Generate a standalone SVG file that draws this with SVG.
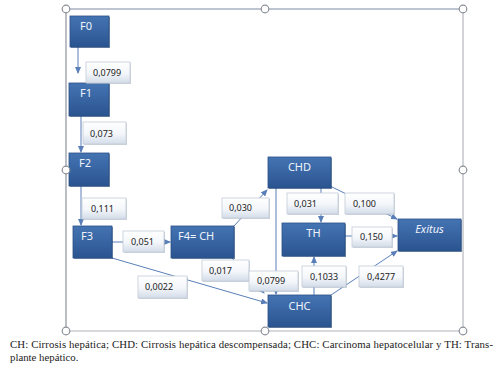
<svg xmlns="http://www.w3.org/2000/svg" width="503" height="378" viewBox="0 0 503 378">
<defs>
<linearGradient id="ng" x1="0" y1="0" x2="0" y2="1">
<stop offset="0" stop-color="#4574b3"/>
<stop offset="1" stop-color="#2a5490"/>
</linearGradient>
<linearGradient id="lg" x1="0" y1="0" x2="0" y2="1">
<stop offset="0" stop-color="#ffffff"/>
<stop offset="0.55" stop-color="#f3f6fa"/>
<stop offset="1" stop-color="#d3dce9"/>
</linearGradient>
<marker id="ar" markerWidth="7" markerHeight="6" refX="6" refY="3" orient="auto" markerUnits="userSpaceOnUse">
<path d="M0,0 L7,3 L0,6 Z" fill="#5a7fb8"/>
</marker>
</defs>
<style>
.node rect.b{fill:url(#ng);stroke:#2c5186;stroke-width:0.8}
.node rect.s{fill:#1e3c68;opacity:0.55}
.node text{font-family:"Noto Sans","Liberation Sans",sans-serif;font-size:11px;fill:#eef3fb}
.lbl rect.b{fill:url(#lg);stroke:#c3ccd8;stroke-width:0.8}
.lbl rect.s{fill:#9aa6b6;opacity:0.5}
.lbl text{font-family:"Noto Sans","Liberation Sans",sans-serif;font-size:9px;fill:#222}
.conn path{fill:none;stroke:#5a7fb8;stroke-width:1;marker-end:url(#ar)}
.frame line{stroke-width:1.2}
.handle{fill:#fff;stroke:#8a8f98;stroke-width:1.2}
.cap{font-family:"Liberation Serif","Times New Roman",serif;font-size:10.8px;fill:#222}
</style>
<g id="frame" class="frame">
<line x1="66" y1="9" x2="463" y2="9" stroke="#7f8ca3"/>
<line x1="66" y1="9" x2="66" y2="331" stroke="#8d939c"/>
<line x1="463" y1="9" x2="463" y2="331" stroke="#b4b8be"/>
<line x1="66" y1="331" x2="463" y2="331" stroke="#aeb2b8"/>
</g>
<g id="connectors" class="conn">
<path d="M78,47 V73"/>
<path d="M81,116 V152"/>
<path d="M81,186 V225"/>
<path d="M112,242 H170"/>
<path d="M234,226 L267,190"/>
<path d="M112,258 L267,303"/>
<path d="M232,258 L264,293"/>
<path d="M276,188 V294"/>
<path d="M321,188 V222"/>
<path d="M330,186 L397,219"/>
<path d="M345,236 H397"/>
<path d="M314,295 V257"/>
<path d="M331,295 L397,251"/>
</g>
<g id="F0" class="node"><rect class="s" x="71" y="17" width="39" height="31"/><rect class="b" x="70" y="16" width="39" height="31"/><text x="80" y="30">F0</text></g>
<g id="F1" class="node"><rect class="s" x="70" y="84" width="40" height="33"/><rect class="b" x="69" y="83" width="40" height="33"/><text x="80" y="97">F1</text></g>
<g id="F2" class="node"><rect class="s" x="70" y="154" width="40" height="33"/><rect class="b" x="69" y="153" width="40" height="33"/><text x="79" y="167">F2</text></g>
<g id="F3" class="node"><rect class="s" x="74" y="227" width="39" height="32"/><rect class="b" x="73" y="226" width="39" height="32"/><text x="81" y="240">F3</text></g>
<g id="F4" class="node"><rect class="s" x="172" y="227" width="63" height="32"/><rect class="b" x="171" y="226" width="63" height="32"/><text x="178" y="240">F4= CH</text></g>
<g id="CHD" class="node"><rect class="s" x="269" y="158" width="63" height="31"/><rect class="b" x="268" y="157" width="63" height="31"/><text x="299.5" y="171" text-anchor="middle">CHD</text></g>
<g id="TH" class="node"><rect class="s" x="283" y="224" width="63" height="33"/><rect class="b" x="282" y="223" width="63" height="33"/><text x="313.5" y="237" text-anchor="middle">TH</text></g>
<g id="Exitus" class="node"><rect class="s" x="399" y="220" width="63" height="32"/><rect class="b" x="398" y="219" width="63" height="32"/><text x="429.5" y="233" text-anchor="middle" font-style="italic">Exitus</text></g>
<g id="CHC" class="node"><rect class="s" x="269" y="296" width="63" height="32"/><rect class="b" x="268" y="295" width="63" height="32"/><text x="299.5" y="310" text-anchor="middle">CHC</text></g>
<g id="labels">
<g id="l1" class="lbl"><rect class="s" x="87" y="63" width="44" height="21"/><rect class="b" x="86" y="62" width="44" height="21"/><text x="93" y="76">0,0799</text></g>
<g id="l2" class="lbl"><rect class="s" x="84" y="123" width="43" height="22"/><rect class="b" x="83" y="122" width="43" height="22"/><text x="90" y="137">0,073</text></g>
<g id="l3" class="lbl"><rect class="s" x="83" y="199" width="44" height="21"/><rect class="b" x="82" y="198" width="44" height="21"/><text x="91" y="212">0,111</text></g>
<g id="l4" class="lbl"><rect class="s" x="124" y="232" width="41" height="21"/><rect class="b" x="123" y="231" width="41" height="21"/><text x="131" y="245">0,051</text></g>
<g id="l5" class="lbl"><rect class="s" x="139" y="277" width="49" height="22"/><rect class="b" x="138" y="276" width="49" height="22"/><text x="145" y="290">0,0022</text></g>
<g id="l6" class="lbl"><rect class="s" x="203" y="261" width="47" height="21"/><rect class="b" x="202" y="260" width="47" height="21"/><text x="209" y="274">0,017</text></g>
<g id="l7" class="lbl"><rect class="s" x="223" y="199" width="47" height="20"/><rect class="b" x="222" y="198" width="47" height="20"/><text x="229" y="211">0,030</text></g>
<g id="l8" class="lbl"><rect class="s" x="250" y="272" width="49" height="20"/><rect class="b" x="249" y="271" width="49" height="20"/><text x="257" y="284">0,0799</text></g>
<g id="l9" class="lbl"><rect class="s" x="288" y="194" width="51" height="21"/><rect class="b" x="287" y="193" width="51" height="21"/><text x="294" y="207">0,031</text></g>
<g id="l10" class="lbl"><rect class="s" x="346" y="194" width="49" height="21"/><rect class="b" x="345" y="193" width="49" height="21"/><text x="353" y="207">0,100</text></g>
<g id="l11" class="lbl"><rect class="s" x="353" y="228" width="40" height="20"/><rect class="b" x="352" y="227" width="40" height="20"/><text x="360" y="240">0,150</text></g>
<g id="l12" class="lbl"><rect class="s" x="303" y="267" width="44" height="21"/><rect class="b" x="302" y="266" width="44" height="21"/><text x="310" y="280">0,1033</text></g>
<g id="l13" class="lbl"><rect class="s" x="360" y="267" width="44" height="21"/><rect class="b" x="359" y="266" width="44" height="21"/><text x="367" y="280">0,4277</text></g>
</g>
<g id="handles">
<circle class="handle" cx="66" cy="9" r="3.8"/>
<circle class="handle" cx="265" cy="9" r="3.8"/>
<circle class="handle" cx="463" cy="9" r="3.8"/>
<circle class="handle" cx="66" cy="170" r="3.8"/>
<circle class="handle" cx="463" cy="170" r="3.8"/>
<circle class="handle" cx="66" cy="331" r="3.8"/>
<circle class="handle" cx="265" cy="331" r="3.8"/>
<circle class="handle" cx="463" cy="331" r="3.8"/>
</g>
<g id="caption">
<text class="cap" x="10" y="348" textLength="483" lengthAdjust="spacing">CH: Cirrosis hepática; CHD: Cirrosis hepática descompensada; CHC: Carcinoma hepatocelular y TH: Trans-</text>
<text class="cap" x="10" y="361">plante hepático.</text>
</g>
</svg>
